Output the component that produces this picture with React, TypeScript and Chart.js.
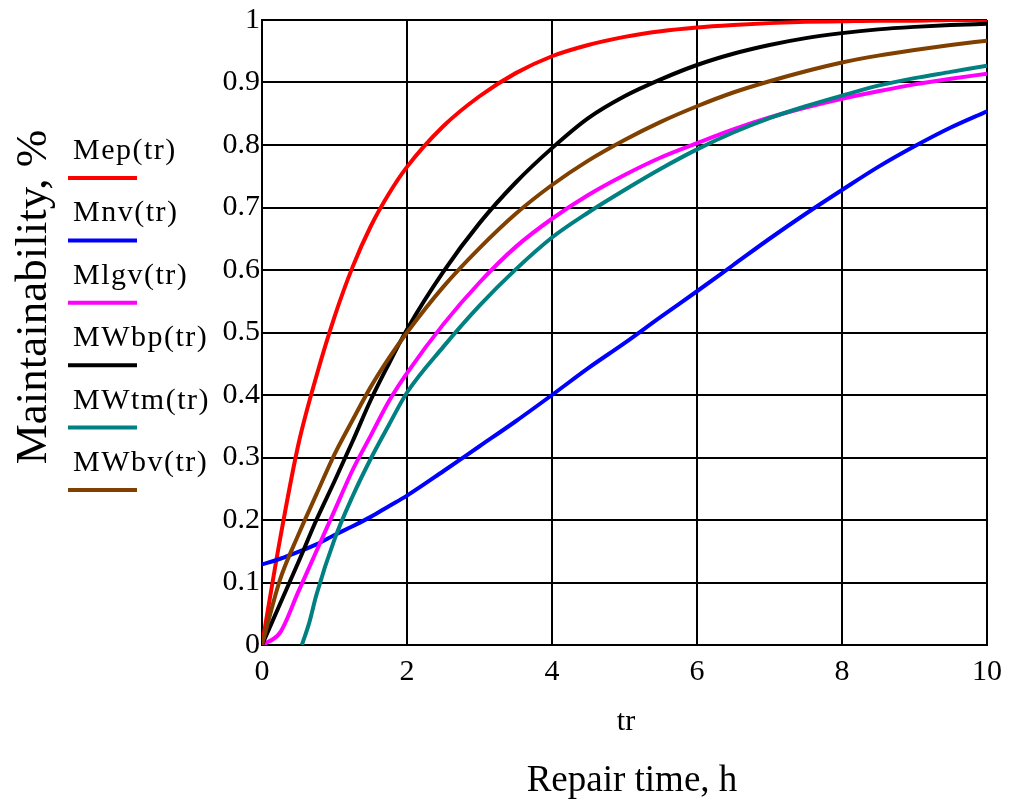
import React, { useEffect, useRef } from "react";
import { Chart, registerables } from "chart.js";

Chart.register(...registerables);

// Repair time grid (h)
const trGrid = [0, 0.25, 0.5, 0.75, 1, 1.25, 1.5, 1.75, 2, 2.5, 3, 3.5, 4, 4.5, 5, 5.5, 6, 6.5, 7, 7.5, 8, 8.5, 9, 9.5, 10];

const mepValues = [0, 0.17, 0.32, 0.43, 0.525, 0.605, 0.67, 0.722, 0.765, 0.83, 0.878, 0.915, 0.942, 0.96, 0.973, 0.982, 0.988, 0.992, 0.995, 0.997, 0.998, 0.999, 0.999, 1.0, 1.0];
const mnvValues = [0.129, 0.138, 0.149, 0.161, 0.176, 0.19, 0.205, 0.222, 0.239, 0.278, 0.318, 0.358, 0.4, 0.443, 0.483, 0.525, 0.566, 0.608, 0.65, 0.69, 0.728, 0.765, 0.798, 0.828, 0.854];
const mlgvValues = [0, 0.02, 0.085, 0.15, 0.215, 0.28, 0.335, 0.39, 0.435, 0.513, 0.58, 0.637, 0.682, 0.72, 0.752, 0.78, 0.803, 0.825, 0.844, 0.86, 0.874, 0.886, 0.897, 0.906, 0.914];
const mwbpValues = [0, 0.066, 0.132, 0.2, 0.262, 0.326, 0.392, 0.45, 0.505, 0.597, 0.675, 0.74, 0.795, 0.843, 0.878, 0.905, 0.928, 0.946, 0.96, 0.971, 0.979, 0.985, 0.989, 0.992, 0.994];
const mwbvValues = [0, 0.105, 0.176, 0.241, 0.305, 0.36, 0.413, 0.459, 0.5, 0.573, 0.635, 0.69, 0.736, 0.775, 0.808, 0.837, 0.862, 0.884, 0.902, 0.918, 0.932, 0.943, 0.952, 0.96, 0.967];

// MWtm starts at a location shift (~0.55 h)
const mwtmTr = [0.55, 0.65, 0.75, 1, 1.25, 1.5, 1.75, 2, 2.5, 3, 3.5, 4, 4.5, 5, 5.5, 6, 6.5, 7, 7.5, 8, 8.5, 9, 9.5, 10];
const mwtmValues = [0, 0.035, 0.08, 0.169, 0.238, 0.298, 0.352, 0.404, 0.477, 0.543, 0.601, 0.652, 0.692, 0.728, 0.762, 0.793, 0.82, 0.843, 0.862, 0.879, 0.895, 0.907, 0.917, 0.927];

const seriesNames = ["Mep(tr)", "Mnv(tr)", "Mlgv(tr)", "MWbp(tr)", "MWtm(tr)", "MWbv(tr)"];
const seriesColors = ["#ff0000", "#0000ff", "#ff00ff", "#000000", "#008080", "#804000"];

const xTickStep = 2;
const yTickStep = 0.1;
const xTitle = "tr";
const xSubTitle = "Repair time, h";
const yTitle = "Maintainability, %";

const FONT = '"Liberation Serif", "Times New Roman", serif';

function toPoints(xs: number[], ys: number[]) {
  return xs.map((x, i) => ({ x, y: ys[i] }));
}

const decorPlugin = {
  id: "decor",
  afterDraw(chart: any) {
    const ctx = chart.ctx as any;
    ctx.save();
    ctx.fillStyle = "#000";
    // legend
    ctx.font = `30px ${FONT}`;
    ctx.textAlign = "left";
    ctx.textBaseline = "alphabetic";
    try { ctx.letterSpacing = "1.5px"; } catch (e) {}
    seriesNames.forEach((name, i) => {
      const base = 159 + 62.4 * i;
      ctx.fillStyle = "#000";
      ctx.fillText(name, 73, base);
      ctx.strokeStyle = seriesColors[i];
      ctx.lineWidth = 4;
      ctx.beginPath();
      ctx.moveTo(68, base + 19);
      ctx.lineTo(137, base + 19);
      ctx.stroke();
    });
    try { ctx.letterSpacing = "0px"; } catch (e) {}
    // x titles
    ctx.fillStyle = "#000";
    ctx.textAlign = "center";
    ctx.textBaseline = "middle";
    ctx.font = `30px ${FONT}`;
    ctx.fillText(xTitle, 626, 722);
    ctx.font = `37px ${FONT}`;
    ctx.fillText(xSubTitle, 632, 781);
    // y title
    ctx.translate(34, 297);
    ctx.rotate(-Math.PI / 2);
    ctx.font = `45px ${FONT}`;
    ctx.fillText(yTitle, 0, 0);
    ctx.restore();
  },
};

export default function App() {
  const ref = useRef<HTMLCanvasElement | null>(null);

  useEffect(() => {
    if (!ref.current) return;
    const seriesData = [
      toPoints(trGrid, mepValues),
      toPoints(trGrid, mnvValues),
      toPoints(trGrid, mlgvValues),
      toPoints(trGrid, mwbpValues),
      toPoints(mwtmTr, mwtmValues),
      toPoints(trGrid, mwbvValues),
    ];
    const chart = new Chart(ref.current, {
      type: "line",
      data: {
        datasets: seriesData.map((d, i) => ({
          label: seriesNames[i],
          data: d,
          borderColor: seriesColors[i],
          backgroundColor: seriesColors[i],
          borderWidth: 4,
          pointRadius: 0,
          cubicInterpolationMode: "monotone" as const,
          fill: false,
          order: seriesNames.length - i,
        })),
      },
      options: {
        responsive: false,
        animation: false,
        events: [],
        layout: { padding: { top: 18, right: 26, left: 0, bottom: 0 } },
        plugins: {
          legend: { display: false },
          tooltip: { enabled: false },
          title: { display: false },
        },
        scales: {
          x: {
            type: "linear",
            min: 0,
            max: 10,
            ticks: {
              stepSize: xTickStep,
              padding: 9,
              color: "#000",
              font: { family: FONT, size: 30 },
              maxRotation: 0,
            },
            grid: { color: "#000", lineWidth: 2, drawTicks: false },
            border: { display: true, color: "#000", width: 2 },
            afterFit: (scale: any) => {
              scale.height = 157;
            },
          },
          y: {
            type: "linear",
            min: 0,
            max: 1,
            ticks: {
              stepSize: yTickStep,
              padding: 2,
              color: "#000",
              font: { family: FONT, size: 30 },
              callback: (v: any) => {
                const n = Number(v);
                if (Math.abs(n) < 1e-9) return "0";
                if (Math.abs(n - 1) < 1e-9) return "1";
                return n.toFixed(1);
              },
            },
            grid: { color: "#000", lineWidth: 2, drawTicks: false },
            border: { display: true, color: "#000", width: 2 },
            afterFit: (scale: any) => {
              scale.width = 262;
            },
          },
        },
      },
      plugins: [decorPlugin],
    });
    return () => chart.destroy();
  }, []);

  return (
    <div style={{ position: "fixed", left: 0, top: 0, width: 1013, height: 802, background: "#fff" }}>
      <canvas ref={ref} width={1013} height={802} style={{ display: "block" }} />
    </div>
  );
}
